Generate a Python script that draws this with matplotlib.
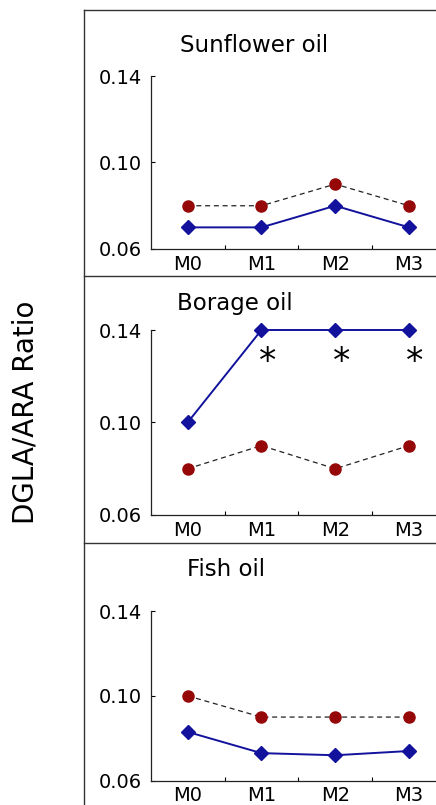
import matplotlib
matplotlib.use("Agg")
import matplotlib.pyplot as plt
from matplotlib.lines import Line2D

months = ["M0", "M1", "M2", "M3"]
panel_titles = ["Sunflower oil", "Borage oil", "Fish oil"]
yticks = [0.06, 0.10, 0.14]
ytick_labels = ["0.06", "0.10", "0.14"]

sunflower_blue = [0.07, 0.07, 0.08, 0.07]
sunflower_red = [0.08, 0.08, 0.09, 0.08]
borage_blue = [0.10, 0.14, 0.14, 0.14]
borage_red = [0.08, 0.09, 0.08, 0.09]
fish_blue = [0.083, 0.073, 0.072, 0.074]
fish_red = [0.10, 0.09, 0.09, 0.09]

borage_sig_idx = [1, 2, 3]
borage_sig_y = 0.126

W, H = 436, 805
fig = plt.figure(figsize=(W / 100, H / 100), dpi=100)
fig.patch.set_facecolor("white")

blue = "#12129c"
red = "#960808"

# axes rectangles in pixels: (left, y_of_0.06, y_of_0.14)
rects = [(150.7, 249, 76), (150.7, 515, 330), (150.7, 780.7, 611)]
right_px = 446
title_pos = [(180, 45), (177, 303), (187, 569)]
blues = [sunflower_blue, borage_blue, fish_blue]
reds = [sunflower_red, borage_red, fish_red]

for i, ((lx, yb, yt), title, b, r) in enumerate(zip(rects, panel_titles, blues, reds)):
    ax = fig.add_axes([lx / W, 1 - yb / H, (right_px - lx) / W, (yb - yt) / H])
    ax.set_facecolor("none")
    x = range(len(months))
    ax.plot(x, r, linestyle=(0, (4, 3)), color="#222222", lw=0.9,
            marker="o", ms=8, mfc=red, mec=red, zorder=3, clip_on=False)
    ax.plot(x, b, linestyle="-", color=blue, lw=1.4,
            marker="D", ms=7, mfc=blue, mec=blue, zorder=4, clip_on=False)
    if i == 1:
        for k in borage_sig_idx:
            ax.text(k + 0.08, borage_sig_y, "*", fontsize=25, ha="center",
                    va="center", color="black")
    ax.set_xlim(-0.5, 3.5)
    ax.set_ylim(0.06, 0.14)
    ax.set_yticks(yticks)
    ax.set_yticklabels(ytick_labels)
    ax.set_xticks(list(x))
    ax.set_xticklabels(months)
    ax.set_xticks([0.5, 1.5, 2.5], minor=True)
    ax.tick_params(axis="x", which="major", length=0, labelsize=14, pad=4)
    ax.tick_params(axis="x", which="minor", direction="in", length=3, width=0.8)
    ax.tick_params(axis="y", direction="in", length=3, width=0.8, labelsize=14, pad=6)
    for s in ["top", "right"]:
        ax.spines[s].set_visible(False)
    for s in ["left", "bottom"]:
        ax.spines[s].set_linewidth(0.9)
        ax.spines[s].set_color("#222222")
    tx, ty = title_pos[i]
    fig.text(tx / W, 1 - ty / H, title, fontsize=16.5, ha="left", va="center")

# outer frame lines
frame_color = "#333333"
fig.add_artist(Line2D([84 / W, 84 / W], [0, 1 - 10 / H], transform=fig.transFigure,
                      color=frame_color, lw=1.0))
for yy in [10, 276, 543]:
    fig.add_artist(Line2D([84 / W, 1], [1 - yy / H, 1 - yy / H], transform=fig.transFigure,
                          color=frame_color, lw=1.0))

fig.text(26 / W, 1 - 412 / H, "DGLA/ARA Ratio", rotation=90, fontsize=20,
         ha="center", va="center")

fig.savefig("out.png", dpi=100)
